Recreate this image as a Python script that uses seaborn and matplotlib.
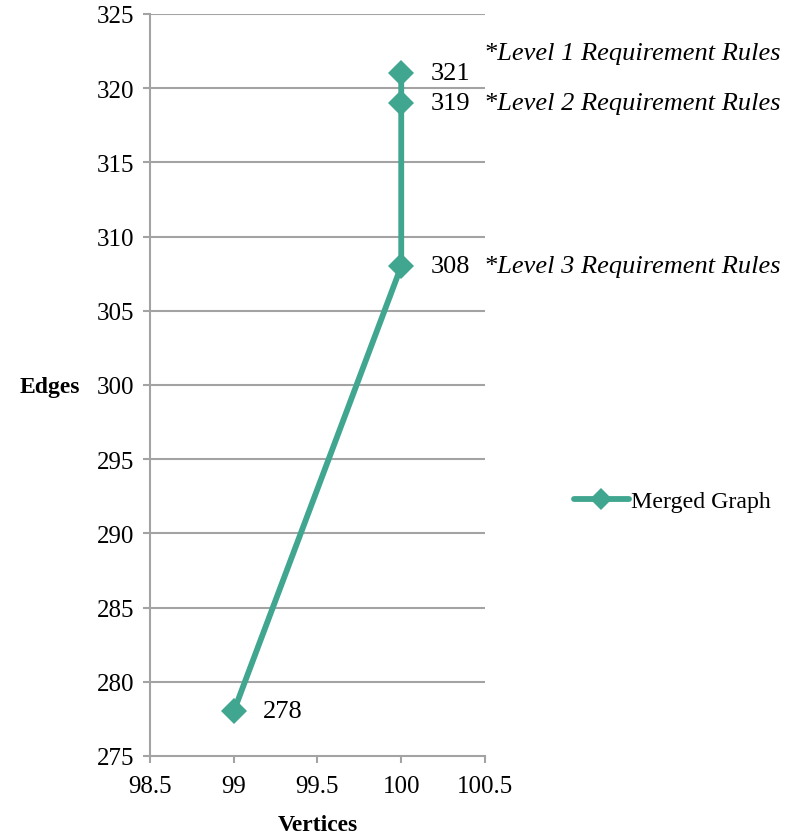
import matplotlib
matplotlib.use("Agg")
import matplotlib.pyplot as plt
from matplotlib.transforms import blended_transform_factory
import seaborn as sns
import pandas as pd

# Series: merged graph growth as requirement rules are added
vertices = [99, 100, 100, 100]
edges = [278, 308, 319, 321]
series_name = "Merged Graph"

# Rule-level notes placed to the right of the plot
level_labels = ["*Level 1 Requirement Rules",
                "*Level 2 Requirement Rules",
                "*Level 3 Requirement Rules"]
level_y = [322.4, 319.0, 308.0]

x_ticks = [98.5, 99, 99.5, 100, 100.5]
x_tick_labels = ["98.5", "99", "99.5", "100", "100.5"]
y_ticks = [275, 280, 285, 290, 295, 300, 305, 310, 315, 320, 325]

sns.set_theme(style="white")
plt.rcParams["font.family"] = ["Liberation Serif", "DejaVu Serif"]
plt.rcParams["text.color"] = "black"

teal = "#41a68f"
grid_grey = "#a3a3a3"

df = pd.DataFrame({"Vertices": vertices, "Edges": edges, "series": series_name})

fig = plt.figure(figsize=(7.97, 8.37), dpi=100)
ax = fig.add_axes([0.1882, 0.0956, 0.4203, 0.8865])

sns.lineplot(data=df, x="Vertices", y="Edges", sort=False, estimator=None,
             color=teal, linewidth=4.2, marker="D", markersize=13,
             markeredgewidth=0, label=series_name, ax=ax, zorder=3)

ax.set_xlim(98.5, 100.5)
ax.set_ylim(275, 325)
ax.set_xticks(x_ticks)
ax.set_xticklabels(x_tick_labels)
ax.set_yticks(y_ticks)

for g in y_ticks[1:]:
    ax.axhline(g, color=grid_grey, linewidth=1.5, zorder=1)

for side in ["top", "right"]:
    ax.spines[side].set_visible(False)
for side in ["left", "bottom"]:
    ax.spines[side].set_color(grid_grey)
    ax.spines[side].set_linewidth(1.5)

ax.tick_params(axis="both", which="major", direction="out", length=5,
               width=1.5, color=grid_grey, labelsize=18, labelcolor="black",
               bottom=True, left=True)
ax.tick_params(axis="y", pad=6)
ax.tick_params(axis="x", pad=9)

ax.set_xlabel("Vertices", fontsize=17, fontweight="bold", color="black")
ax.xaxis.set_label_coords(0.5, -0.078)
ax.set_ylabel("Edges", fontsize=17, fontweight="bold", rotation=0,
              color="black", ha="center", va="center")
ax.yaxis.set_label_coords(-0.30, 0.498)

# Value labels beside each point
for xv, yv in zip(vertices, edges):
    ax.annotate(str(yv), (xv, yv), xytext=(21, 0), textcoords="offset points",
                ha="left", va="center", fontsize=19, color="black")

# Rule-level notes
trans = blended_transform_factory(ax.transAxes, ax.transData)
for txt, yv in zip(level_labels, level_y):
    ax.text(0.997, yv, txt, transform=trans, ha="left", va="center",
            fontsize=19, fontstyle="italic", color="black", clip_on=False)

leg = ax.legend(loc="center left", bbox_to_anchor=(0.708, 0.4),
                bbox_transform=fig.transFigure, frameon=False, fontsize=17.2,
                handlelength=2.3, handletextpad=0.1, borderaxespad=0,
                labelcolor="black")
for h in leg.legend_handles:
    h.set_markersize(11)

fig.savefig("out.png", dpi=100)
